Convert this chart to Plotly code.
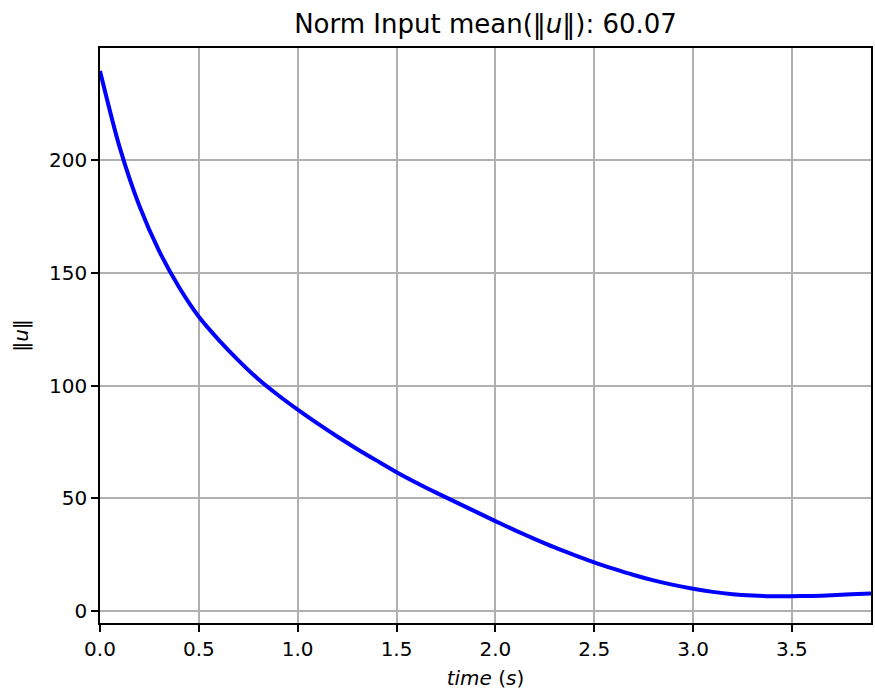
import plotly.graph_objects as go

time_s = [0.0, 0.1, 0.2, 0.3, 0.4, 0.5, 0.6, 0.7, 0.8, 0.9,
          1.0, 1.1, 1.2, 1.3, 1.4, 1.5, 1.6, 1.7, 1.8, 1.9,
          2.0, 2.1, 2.2, 2.3, 2.4, 2.5, 2.6, 2.7, 2.8, 2.9,
          3.0, 3.1, 3.2, 3.3, 3.4, 3.5, 3.6, 3.7, 3.8, 3.9]
norm_u = [239.5, 205.5, 179.5, 159.5, 143.6, 130.5, 120.3, 111.2, 102.9, 95.8,
          89.3, 83.2, 77.4, 71.9, 66.7, 61.6, 56.9, 52.5, 48.3, 44.1,
          39.9, 35.8, 31.9, 28.2, 24.8, 21.6, 18.7, 16.0, 13.6, 11.6,
          9.9, 8.5, 7.5, 6.9, 6.6, 6.6, 6.7, 7.0, 7.4, 7.8]

x_ticks = [0.0, 0.5, 1.0, 1.5, 2.0, 2.5, 3.0, 3.5]
x_tick_labels = ["0.0", "0.5", "1.0", "1.5", "2.0", "2.5", "3.0", "3.5"]
y_ticks = [0, 50, 100, 150, 200]
y_tick_labels = ["0", "50", "100", "150", "200"]

FONT = "DejaVu Sans"

fig = go.Figure()
fig.add_trace(go.Scatter(x=time_s, y=norm_u, mode="lines",
                         line=dict(color="#0000ff", width=4, shape="spline", smoothing=0.8),
                         showlegend=False, hoverinfo="skip"))

axis_common = dict(
    showline=True, linecolor="black", linewidth=1.6, mirror=True,
    ticks="outside", ticklen=7, tickwidth=1.6, tickcolor="black",
    showgrid=True, gridcolor="#b0b0b0", gridwidth=1.6,
    zeroline=False,
    tickfont=dict(family=FONT, size=20, color="black"),
)

fig.update_layout(
    width=875, height=690, autosize=False,
    margin=dict(l=100, r=2, t=48, b=67),
    paper_bgcolor="white", plot_bgcolor="white",
    font=dict(family=FONT, color="black"),
    title=dict(text="Norm Input mean(‖<i>u</i>‖): 60.07", x=0.5, xref="paper", xanchor="center",
               y=0.965, yref="container", yanchor="middle",
               font=dict(family=FONT, size=26, color="black")),
    xaxis=dict(range=[0, 3.9], tickvals=x_ticks, ticktext=x_tick_labels,
               title=dict(text="<i>time</i> (<i>s</i>)", font=dict(family=FONT, size=20), standoff=11),
               **axis_common),
    yaxis=dict(range=[-5.3, 249.7], tickvals=y_ticks, ticktext=y_tick_labels,
               title=dict(text="‖<i>u</i>‖", font=dict(family=FONT, size=20), standoff=15),
               **axis_common),
)

fig.write_html(
    "out.html",
    config={"responsive": False, "displayModeBar": False},
    post_script="document.body.style.margin='0';document.documentElement.style.overflow='hidden';"
                "var gd=document.getElementById('{plot_id}');"
                "Plotly.relayout(gd,{width:875,height:690});",
)
